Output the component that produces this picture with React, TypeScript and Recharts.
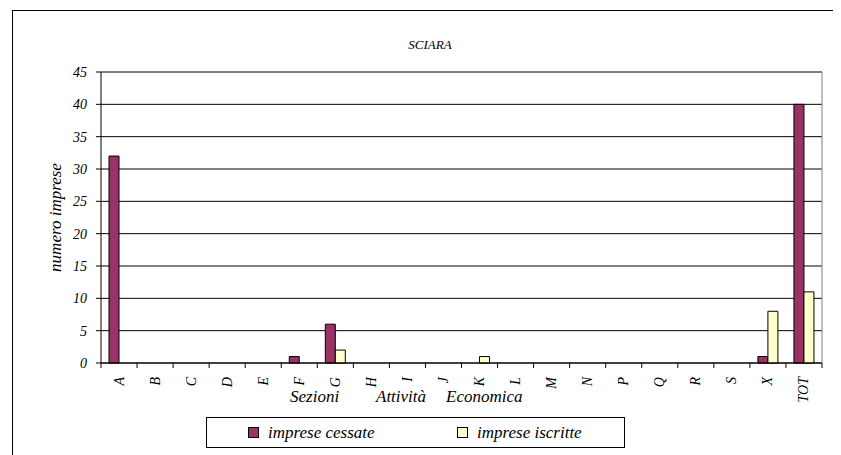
import React from 'react';
import {
  BarChart,
  Bar,
  XAxis,
  YAxis,
  CartesianGrid,
  ReferenceLine,
} from 'recharts';

// sezioni di attività economica
const sezioni = ['A', 'B', 'C', 'D', 'E', 'F', 'G', 'H', 'I', 'J', 'K', 'L', 'M', 'N', 'P', 'Q', 'R', 'S', 'X', 'TOT'];
const cessate = [32, 0, 0, 0, 0, 1, 6, 0, 0, 0, 0, 0, 0, 0, 0, 0, 0, 0, 1, 40];
const iscritte = [0, 0, 0, 0, 0, 0, 2, 0, 0, 0, 1, 0, 0, 0, 0, 0, 0, 0, 8, 11];
const yTicks = [0, 5, 10, 15, 20, 25, 30, 35, 40, 45];

const serie = [
  { key: 'cessate', name: 'imprese cessate', color: '#993366' },
  { key: 'iscritte', name: 'imprese iscritte', color: '#FFFFCC' },
];

const data = sezioni.map((s, i) => ({ sezione: s, cessate: cessate[i], iscritte: iscritte[i] }));

const FONT = '"Liberation Serif", "Times New Roman", serif';

const XTick = (props: any) => {
  const { x, y, payload, index } = props;
  const half = payload && payload.offset ? payload.offset : 18;
  const last = index === sezioni.length - 1;
  return (
    <g>
      <line x1={x - half} y1={y} x2={x - half} y2={y + 5} stroke="#000" />
      {last && <line x1={x + half} y1={y} x2={x + half} y2={y + 5} stroke="#000" />}
      <text
        x={x}
        y={y + 14}
        transform={`rotate(-90, ${x}, ${y + 14})`}
        textAnchor="end"
        dominantBaseline="central"
        fontFamily={FONT}
        fontStyle="italic"
        fontSize={14}
        fill="#000"
      >
        {payload.value}
      </text>
    </g>
  );
};

export default function App() {
  return (
    <div
      style={{
        position: 'relative',
        width: 824,
        height: 460,
        marginLeft: 4,
        marginTop: 2,
        border: '1px solid #000',
        fontFamily: FONT,
      }}
    >
      <BarChart
        width={824}
        height={445}
        data={data}
        margin={{ top: 61, right: 14, left: 28, bottom: 53 }}
        barSize={10}
        barGap={0}
      >
        <CartesianGrid vertical={false} stroke="#000" />
        <ReferenceLine y={45} stroke="#808080" />
        <XAxis
          dataKey="sezione"
          interval={0}
          height={40}
          tickSize={0}
          tickMargin={0}
          tickLine={false}
          axisLine={{ stroke: '#000' }}
          tick={<XTick />}
        />
        <YAxis
          domain={[0, 45]}
          ticks={yTicks}
          width={60}
          tickSize={5}
          tickMargin={9}
          axisLine={{ stroke: '#000' }}
          tickLine={{ stroke: '#000' }}
          tick={{ fill: '#000', fontSize: 14, fontStyle: 'italic', fontFamily: FONT }}
          label={{
            value: 'numero imprese',
            angle: -90,
            position: 'insideLeft',
            offset: 14,
            style: { fill: '#000', fontSize: 17, fontStyle: 'italic', fontFamily: FONT, textAnchor: 'middle' },
          }}
        />
        <YAxis
          yAxisId="bordo"
          orientation="right"
          domain={[0, 45]}
          width={1}
          tick={false}
          tickLine={false}
          axisLine={{ stroke: '#808080' }}
        />
        {serie.map((s) => (
          <Bar
            key={s.key}
            dataKey={s.key}
            name={s.name}
            fill={s.color}
            stroke="#000"
            strokeWidth={1}
            isAnimationActive={false}
          />
        ))}
        <text x={417} y={38} textAnchor="middle" fontFamily={FONT} fontStyle="italic" fontSize={13} fill="#000">
          SCIARA
        </text>
        <text y={391} fontFamily={FONT} fontStyle="italic" fontSize={17} fill="#000">
          <tspan x={277}>Sezioni</tspan>
          <tspan x={363}>Attività</tspan>
          <tspan x={433}>Economica</tspan>
        </text>
      </BarChart>
      <div
        style={{
          position: 'absolute',
          left: 193,
          top: 406,
          width: 417,
          height: 29,
          border: '1px solid #000',
          display: 'flex',
          alignItems: 'center',
          fontStyle: 'italic',
          fontSize: 17,
        }}
      >
        {serie.map((s, i) => (
          <div
            key={s.key}
            style={{ position: 'absolute', left: i === 0 ? 41 : 250, display: 'flex', alignItems: 'center' }}
          >
            <span
              style={{
                display: 'inline-block',
                width: 9,
                height: 9,
                background: s.color,
                border: '1px solid #000',
                marginRight: 9,
              }}
            />
            <span>{s.name}</span>
          </div>
        ))}
      </div>
    </div>
  );
}
